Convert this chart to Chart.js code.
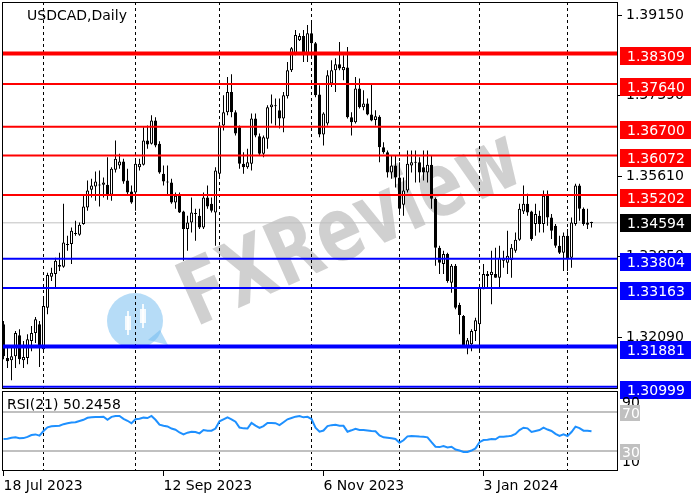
<!DOCTYPE html>
<html>
<head>
<meta charset="utf-8">
<script src="https://cdn.jsdelivr.net/npm/chart.js@4.4.1/dist/chart.umd.min.js"></script>
<style>
  html, body { margin: 0; padding: 0; background: #fff; }
  #wrap { position: relative; width: 700px; height: 500px; overflow: hidden; }
  canvas { position: absolute; left: 0; }
  #priceChart { top: 0; }
  #rsiChart { top: 390px; }
</style>
</head>
<body>
<div id="wrap">
  <canvas id="priceChart" width="700" height="400"></canvas>
  <canvas id="rsiChart" width="700" height="110"></canvas>
</div>
<script>
let symbolTitle = 'USDCAD,Daily';
let rsiTitle = 'RSI(21) 50.2458';

// daily candles
let opens = [
  1.3237, 1.3163, 1.3158, 1.3167, 1.3213, 1.3158, 1.3163, 1.3200, 1.3218, 1.3237,
  1.3182, 1.3273, 1.3341, 1.3347, 1.3367, 1.3363, 1.3413, 1.3413, 1.3436, 1.3433,
  1.3457, 1.3493, 1.3532, 1.3539, 1.3541, 1.3543, 1.3543, 1.3521, 1.3576, 1.3585,
  1.3594, 1.3552, 1.3528, 1.3526, 1.3581, 1.3587, 1.3640, 1.3633, 1.3684, 1.3633,
  1.3567, 1.3550, 1.3548, 1.3504, 1.3519, 1.3484, 1.3446, 1.3460, 1.3480, 1.3475,
  1.3449, 1.3515, 1.3501, 1.3482, 1.3567, 1.3673, 1.3702, 1.3746, 1.3702, 1.3669,
  1.3589, 1.3581, 1.3589, 1.3688, 1.3649, 1.3611, 1.3644, 1.3713, 1.3716, 1.3706,
  1.3688, 1.3737, 1.3794, 1.3829, 1.3860, 1.3869, 1.3827, 1.3875, 1.3853, 1.3741,
  1.3653, 1.3677, 1.3765, 1.3794, 1.3807, 1.3794, 1.3800, 1.3691, 1.3680, 1.3754,
  1.3713, 1.3721, 1.3697, 1.3685, 1.3692, 1.3625, 1.3614, 1.3570, 1.3585, 1.3559,
  1.3499, 1.3530, 1.3585, 1.3592, 1.3592, 1.3581, 1.3570, 1.3587, 1.3512, 1.3405,
  1.3369, 1.3391, 1.3328, 1.3365, 1.3279, 1.3255, 1.3189, 1.3193, 1.3222, 1.3237,
  1.3314, 1.3347, 1.3345, 1.3347, 1.3339, 1.3376, 1.3372, 1.3378, 1.3398, 1.3422,
  1.3484, 1.3501, 1.3484, 1.3457, 1.3475, 1.3457, 1.3519, 1.3471, 1.3453, 1.3409,
  1.3394, 1.3431, 1.3383, 1.3457, 1.3541, 1.3490, 1.3460, 1.3461
];
let highs = [
  1.3244, 1.3185, 1.3189, 1.3222, 1.3226, 1.3200, 1.3215, 1.3233, 1.3253, 1.3244,
  1.3295, 1.3350, 1.3361, 1.3383, 1.3394, 1.3501, 1.3431, 1.3449, 1.3464, 1.3460,
  1.3519, 1.3552, 1.3556, 1.3572, 1.3574, 1.3559, 1.3603, 1.3581, 1.3640, 1.3611,
  1.3600, 1.3578, 1.3541, 1.3600, 1.3600, 1.3669, 1.3673, 1.3695, 1.3691, 1.3638,
  1.3585, 1.3585, 1.3556, 1.3526, 1.3526, 1.3486, 1.3475, 1.3515, 1.3490, 1.3490,
  1.3526, 1.3541, 1.3515, 1.3581, 1.3677, 1.3739, 1.3779, 1.3785, 1.3706, 1.3673,
  1.3614, 1.3622, 1.3699, 1.3699, 1.3655, 1.3651, 1.3717, 1.3741, 1.3732, 1.3732,
  1.3746, 1.3812, 1.3845, 1.3882, 1.3875, 1.3882, 1.3893, 1.3904, 1.3856, 1.3761,
  1.3702, 1.3794, 1.3816, 1.3820, 1.3856, 1.3827, 1.3845, 1.3702, 1.3779, 1.3776,
  1.3750, 1.3732, 1.3765, 1.3706, 1.3695, 1.3636, 1.3618, 1.3607, 1.3607, 1.3592,
  1.3559, 1.3618, 1.3618, 1.3618, 1.3603, 1.3618, 1.3618, 1.3607, 1.3515, 1.3409,
  1.3398, 1.3394, 1.3369, 1.3369, 1.3284, 1.3257, 1.3207, 1.3226, 1.3251, 1.3321,
  1.3369, 1.3354, 1.3398, 1.3405, 1.3409, 1.3398, 1.3442, 1.3413, 1.3438, 1.3501,
  1.3541, 1.3523, 1.3486, 1.3501, 1.3486, 1.3530, 1.3530, 1.3479, 1.3457, 1.3431,
  1.3438, 1.3446, 1.3471, 1.3545, 1.3545, 1.3493, 1.3490, 1.3462
];
let lows = [
  1.3160, 1.3141, 1.3114, 1.3141, 1.3149, 1.3141, 1.3149, 1.3178, 1.3196, 1.3143,
  1.3178, 1.3259, 1.3332, 1.3317, 1.3354, 1.3361, 1.3398, 1.3369, 1.3431, 1.3431,
  1.3455, 1.3486, 1.3515, 1.3508, 1.3495, 1.3515, 1.3510, 1.3508, 1.3570, 1.3578,
  1.3545, 1.3519, 1.3501, 1.3486, 1.3574, 1.3585, 1.3622, 1.3631, 1.3625, 1.3567,
  1.3541, 1.3519, 1.3501, 1.3490, 1.3481, 1.3376, 1.3398, 1.3438, 1.3420, 1.3446,
  1.3446, 1.3490, 1.3482, 1.3409, 1.3556, 1.3662, 1.3695, 1.3691, 1.3651, 1.3578,
  1.3567, 1.3578, 1.3574, 1.3647, 1.3607, 1.3603, 1.3622, 1.3677, 1.3673, 1.3666,
  1.3658, 1.3732, 1.3790, 1.3827, 1.3858, 1.3812, 1.3812, 1.3823, 1.3735, 1.3647,
  1.3629, 1.3673, 1.3757, 1.3746, 1.3794, 1.3772, 1.3688, 1.3651, 1.3677, 1.3710,
  1.3706, 1.3695, 1.3682, 1.3673, 1.3592, 1.3611, 1.3559, 1.3556, 1.3537, 1.3477,
  1.3475, 1.3526, 1.3570, 1.3548, 1.3548, 1.3552, 1.3548, 1.3490, 1.3365, 1.3347,
  1.3347, 1.3328, 1.3306, 1.3270, 1.3215, 1.3185, 1.3171, 1.3178, 1.3200, 1.3174,
  1.3314, 1.3317, 1.3281, 1.3339, 1.3317, 1.3361, 1.3347, 1.3339, 1.3394, 1.3420,
  1.3479, 1.3475, 1.3420, 1.3431, 1.3438, 1.3438, 1.3453, 1.3424, 1.3405, 1.3391,
  1.3354, 1.3354, 1.3361, 1.3453, 1.3464, 1.3453, 1.3446, 1.3449
];
let closes = [
  1.3167, 1.3156, 1.3167, 1.3218, 1.3160, 1.3165, 1.3204, 1.3218, 1.3248, 1.3185,
  1.3277, 1.3345, 1.3350, 1.3376, 1.3363, 1.3416, 1.3411, 1.3442, 1.3435, 1.3455,
  1.3495, 1.3530, 1.3541, 1.3550, 1.3542, 1.3548, 1.3521, 1.3578, 1.3600, 1.3594,
  1.3550, 1.3526, 1.3504, 1.3589, 1.3589, 1.3640, 1.3631, 1.3684, 1.3629, 1.3570,
  1.3550, 1.3548, 1.3504, 1.3519, 1.3482, 1.3446, 1.3460, 1.3482, 1.3479, 1.3449,
  1.3515, 1.3495, 1.3486, 1.3574, 1.3673, 1.3702, 1.3746, 1.3702, 1.3655, 1.3589,
  1.3581, 1.3592, 1.3688, 1.3651, 1.3611, 1.3647, 1.3713, 1.3719, 1.3715, 1.3688,
  1.3739, 1.3794, 1.3842, 1.3871, 1.3869, 1.3827, 1.3875, 1.3853, 1.3739, 1.3653,
  1.3699, 1.3783, 1.3794, 1.3807, 1.3798, 1.3801, 1.3691, 1.3680, 1.3754, 1.3713,
  1.3721, 1.3697, 1.3684, 1.3693, 1.3625, 1.3614, 1.3570, 1.3585, 1.3559, 1.3490,
  1.3530, 1.3589, 1.3592, 1.3591, 1.3570, 1.3570, 1.3587, 1.3512, 1.3405, 1.3372,
  1.3391, 1.3332, 1.3365, 1.3273, 1.3257, 1.3189, 1.3202, 1.3222, 1.3246, 1.3317,
  1.3347, 1.3343, 1.3352, 1.3339, 1.3383, 1.3383, 1.3387, 1.3405, 1.3422, 1.3490,
  1.3501, 1.3482, 1.3424, 1.3479, 1.3457, 1.3519, 1.3471, 1.3442, 1.3409, 1.3394,
  1.3431, 1.3380, 1.3460, 1.3541, 1.3490, 1.3457, 1.3455, 1.3459
];
let rsiValues = [
  42.3, 42.5, 43.6, 44.0, 43.0, 43.2, 44.5, 46.4, 47.0, 45.7,
  50.5, 54.3, 55.3, 55.6, 55.9, 57.5, 58.5, 59.2, 59.5, 60.8,
  62.0, 64.0, 64.5, 64.8, 64.9, 65.2, 62.0, 65.0, 65.9, 65.9,
  63.0, 61.0, 58.4, 62.5, 63.0, 64.2, 63.8, 65.9, 62.0, 57.0,
  55.8, 55.2, 53.0, 51.8, 49.0, 47.1, 48.8, 49.8, 49.5, 48.1,
  51.5, 50.8, 50.8, 53.0, 60.5, 62.5, 64.5, 62.5, 60.0, 54.0,
  53.2, 53.0, 58.8, 56.0, 53.6, 55.5, 58.8, 58.8, 58.5, 56.5,
  59.5, 62.5, 63.8, 65.2, 65.9, 64.5, 65.0, 62.8, 54.0, 49.8,
  51.0, 55.5, 56.5, 56.8, 55.8, 55.8, 49.8, 51.2, 52.8, 51.5,
  51.5, 51.0, 50.5, 50.2, 46.0, 44.0, 43.5, 43.0, 42.3, 38.5,
  41.0, 45.0, 45.4, 45.2, 44.8, 44.5, 44.0, 39.0, 34.4, 34.0,
  35.0, 33.7, 34.4, 31.5, 30.5, 29.0, 29.0, 30.5, 32.7, 39.0,
  41.2, 41.5, 42.3, 42.0, 44.7, 44.7, 45.0, 45.7, 47.5, 51.5,
  53.9, 53.2, 49.5, 50.5, 51.5, 53.9, 52.0, 50.5, 47.5, 45.4,
  47.1, 45.4, 49.5, 55.0, 53.5, 50.8, 50.8, 50.25
];

// bar index of the date labels and of the first bar of each month
let dateTicks = [0, 40, 80, 120];
let dateLabels = ['18 Jul 2023', '12 Sep 2023', '6 Nov 2023', '3 Jan 2024'];
let monthStarts = [10, 33, 54, 77, 99, 119, 141];

let priceTicks = [1.39150, 1.37390, 1.35610, 1.33850, 1.32090];
let resistanceLevels = [1.38309, 1.37640, 1.36700, 1.36072, 1.35202];
let supportLevels = [1.33804, 1.33163, 1.31881, 1.30999];
let lastPrice = 1.34594;
let rsiLevels = [70, 30];
let rsiEdgeLabels = [90, 10];

// styles
let resistanceWidths = [4, 2, 2, 2, 2];
let supportWidths = [2, 2, 4, 2];
const FONT = '14px "DejaVu Sans"';
const xMin = -0.375, xMax = 153.625;

Chart.defaults.font.family = '"DejaVu Sans"';
Chart.defaults.font.size = 14;
Chart.defaults.color = '#000';

function flatLine(v, color, width, order) {
    return {
        type: 'line',
        data: [{x: xMin, y: v}, {x: xMax, y: v}],
        borderColor: color,
        borderWidth: width,
        pointRadius: 0,
        order: order
    };
}

function monthGrid(chart) {
    let ctx = chart.ctx;
    let area = chart.chartArea;
    ctx.save();
    ctx.strokeStyle = '#000';
    ctx.lineWidth = 1;
    ctx.setLineDash([3, 3]);
    monthStarts.forEach(function (m) {
        let px = chart.scales.x.getPixelForValue(m);
        ctx.beginPath();
        ctx.moveTo(px, area.top);
        ctx.lineTo(px, area.bottom);
        ctx.stroke();
    });
    ctx.restore();
}

function drawWatermark(ctx) {
    ctx.save();
    ctx.translate(352, 232);
    ctx.rotate(-0.42);
    ctx.scale(1, 1.35);
    ctx.font = 'bold 66px "DejaVu Sans"';
    ctx.fillStyle = 'rgba(170,170,170,0.55)';
    ctx.textAlign = 'center';
    ctx.textBaseline = 'middle';
    ctx.fillText('FXReview', 0, 0);
    ctx.restore();

    ctx.save();
    ctx.fillStyle = 'rgba(110,185,240,0.5)';
    ctx.beginPath();
    ctx.arc(135, 321, 28, 0, Math.PI * 2);
    ctx.fill();
    ctx.beginPath();
    ctx.moveTo(148, 340);
    ctx.lineTo(168, 345);
    ctx.lineTo(160, 330);
    ctx.fill();
    ctx.fillStyle = 'rgba(255,255,255,0.85)';
    ctx.fillRect(125, 316, 6, 14);
    ctx.fillRect(127, 311, 2, 24);
    ctx.fillRect(140, 309, 6, 14);
    ctx.fillRect(142, 304, 2, 24);
    ctx.restore();
}

function priceBox(ctx, y, value, bg, dy) {
    let mid = Math.round(y + dy);
    ctx.fillStyle = bg;
    ctx.fillRect(620, mid - 9, 71, 18);
    ctx.fillStyle = '#fff';
    ctx.font = FONT;
    ctx.textAlign = 'left';
    ctx.textBaseline = 'middle';
    ctx.fillText(value.toFixed(5), 627, mid + 1);
}

const priceDecor = {
    id: 'priceDecor',
    beforeDatasetsDraw(chart) {
        drawWatermark(chart.ctx);
        monthGrid(chart);
    },
    afterDraw(chart) {
        let ctx = chart.ctx;
        let y = chart.scales.y;
        ctx.save();
        ctx.strokeStyle = '#000';
        ctx.lineWidth = 1;
        ctx.strokeRect(2.5, 2.5, 615, 386);
        ctx.fillStyle = '#000';
        ctx.font = FONT;
        ctx.textBaseline = 'middle';
        ctx.fillText(symbolTitle, 27, 16);
        resistanceLevels.forEach(v => priceBox(ctx, y.getPixelForValue(v), v, '#ff0000', 3));
        supportLevels.forEach(v => priceBox(ctx, y.getPixelForValue(v), v, '#0000ff', 3));
        priceBox(ctx, y.getPixelForValue(lastPrice), lastPrice, '#000000', 0.5);
        ctx.restore();
    }
};

let bodyData = opens.map((o, i) => ({x: i, y: [o, closes[i]]}));
let wickData = highs.map((h, i) => ({x: i, y: [lows[i], h]}));

let levelSets = [];
resistanceLevels.forEach((v, k) => levelSets.push(flatLine(v, '#ff0000', resistanceWidths[k], 0)));
supportLevels.forEach((v, k) => levelSets.push(flatLine(v, '#0000ff', supportWidths[k], 0)));

new Chart(document.getElementById('priceChart'), {
    type: 'bar',
    data: {
        datasets: levelSets.concat([
            {
                type: 'bar',
                data: bodyData,
                grouped: false,
                barThickness: 3,
                maxBarThickness: 3,
                minBarLength: 1,
                backgroundColor: function (c) {
                    let i = c.dataIndex;
                    if (i === undefined) return '#000';
                    return closes[i] >= opens[i] ? '#ffffff' : '#000000';
                },
                borderColor: '#000',
                borderWidth: 1,
                borderSkipped: false,
                inflateAmount: 0,
                order: 1
            },
            {
                type: 'bar',
                data: wickData,
                grouped: false,
                barThickness: 1,
                maxBarThickness: 1,
                backgroundColor: '#000',
                borderWidth: 0,
                inflateAmount: 0,
                order: 2
            },
            flatLine(lastPrice, '#c0c0c0', 1, 3)
        ])
    },
    options: {
        responsive: false,
        animation: false,
        devicePixelRatio: 1,
        events: [],
        layout: {padding: {top: 2, left: 2, right: 0, bottom: 11}},
        plugins: {legend: {display: false}, tooltip: {enabled: false}},
        scales: {
            x: {type: 'linear', min: xMin, max: xMax, offset: false, display: false},
            y: {
                position: 'right',
                min: 1.3095,
                max: 1.39436,
                afterFit: s => { s.width = 82; s.paddingTop = 0; s.paddingBottom = 0; },
                afterBuildTicks: s => { s.ticks = priceTicks.map(v => ({value: v})); },
                ticks: {callback: v => v.toFixed(5), padding: 4, color: '#000', autoSkip: false},
                grid: {drawOnChartArea: false, tickLength: 4, color: '#000'},
                border: {display: false}
            }
        }
    },
    plugins: [priceDecor]
});

const rsiDecor = {
    id: 'rsiDecor',
    beforeDatasetsDraw(chart) {
        monthGrid(chart);
    },
    afterDraw(chart) {
        let ctx = chart.ctx;
        let y = chart.scales.y;
        ctx.save();
        ctx.strokeStyle = '#000';
        ctx.lineWidth = 1;
        ctx.strokeRect(2.5, 1.5, 615, 79);
        ctx.fillStyle = '#000';
        ctx.font = FONT;
        ctx.textBaseline = 'middle';
        ctx.textAlign = 'left';
        ctx.fillText(rsiTitle, 7, 15);
        ctx.fillText(String(rsiEdgeLabels[0]), 622, Math.round(y.getPixelForValue(rsiEdgeLabels[0]) + 11));
        ctx.fillText(String(rsiEdgeLabels[1]), 622, Math.round(y.getPixelForValue(rsiEdgeLabels[1]) - 9));
        rsiLevels.forEach(function (v) {
            let mid = Math.round(y.getPixelForValue(v)) + 1;
            ctx.fillStyle = '#c0c0c0';
            ctx.fillRect(620, mid - 8, 20, 16);
            ctx.fillStyle = '#fff';
            ctx.fillText(String(v), 622, mid + 1);
        });
        ctx.restore();
    }
};

new Chart(document.getElementById('rsiChart'), {
    type: 'line',
    data: {
        datasets: [
            {
                data: rsiValues.map((v, i) => ({x: i, y: v})),
                borderColor: '#1e90ff',
                borderWidth: 2,
                pointRadius: 0,
                tension: 0,
                order: 0
            }
        ].concat(rsiLevels.map(v => flatLine(v, '#c0c0c0', 2, 1)))
    },
    options: {
        responsive: false,
        animation: false,
        devicePixelRatio: 1,
        events: [],
        layout: {padding: {top: 1, left: 2, right: 0, bottom: 0}},
        plugins: {legend: {display: false}, tooltip: {enabled: false}},
        scales: {
            x: {
                type: 'linear',
                min: xMin,
                max: xMax,
                offset: false,
                afterBuildTicks: s => { s.ticks = dateTicks.map(v => ({value: v})); },
                afterFit: s => { s.height = 29; },
                ticks: {
                    callback: (v, i) => dateLabels[i],
                    align: 'start',
                    maxRotation: 0,
                    autoSkip: false,
                    padding: 2,
                    color: '#000'
                },
                grid: {drawOnChartArea: false, tickLength: 5, color: '#000'},
                border: {display: false}
            },
            y: {
                position: 'right',
                min: 9.5,
                max: 91.5,
                afterFit: s => { s.width = 82; },
                ticks: {display: false},
                grid: {display: false},
                border: {display: false}
            }
        }
    },
    plugins: [rsiDecor]
});
</script>
</body>
</html>
